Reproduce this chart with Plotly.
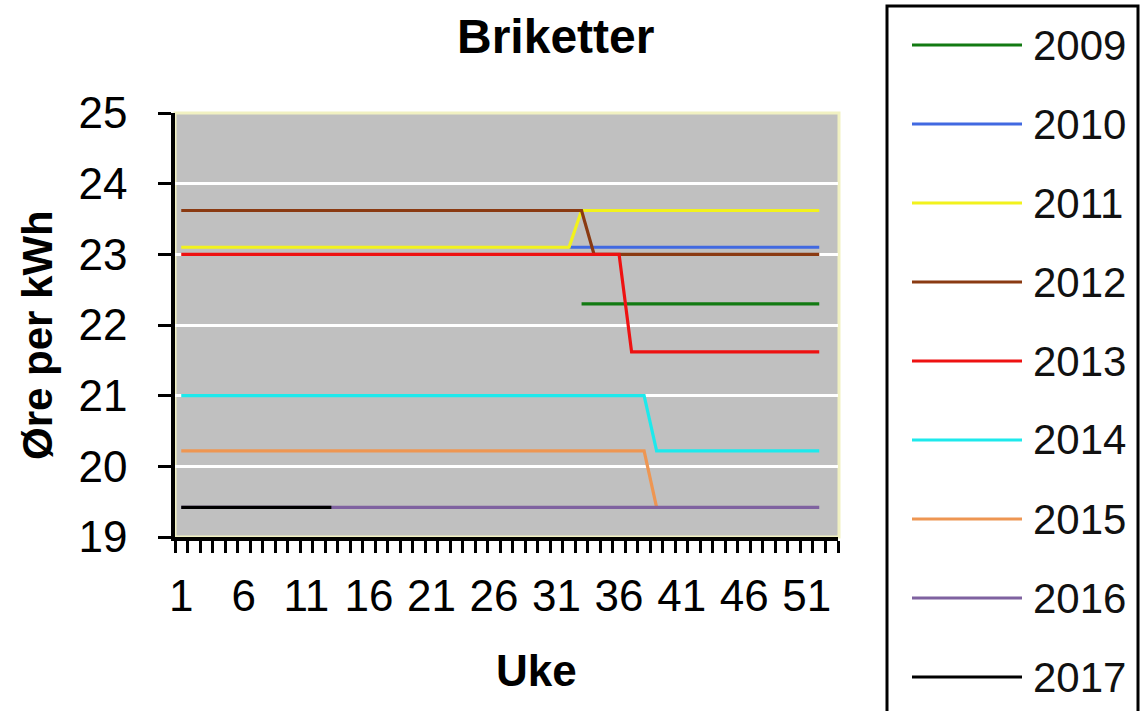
import plotly.graph_objects as go

# Weekly briquette prices (øre per kWh), weeks 1-52; None = no quote
weeks = list(range(1, 53))

p2009 = [None] * 32 + [22.3] * 20
p2010 = [None] * 31 + [23.1] * 21
p2011 = [23.1] * 32 + [23.62] * 20
p2012 = [23.62] * 33 + [23.0] * 19
p2013 = [23.0] * 36 + [21.62] * 16
p2014 = [21.0] * 38 + [20.22] * 14
p2015 = [20.22] * 38 + [19.42] + [None] * 13
p2016 = [19.42] * 52
p2017 = [19.42] * 13 + [None] * 39

years = ["2009", "2010", "2011", "2012", "2013", "2014", "2015", "2016", "2017"]
prices = [p2009, p2010, p2011, p2012, p2013, p2014, p2015, p2016, p2017]
colors = ["#127a12", "#4169e1", "#f2f21c", "#8a3a12", "#ee1111",
          "#1de9ec", "#ee9652", "#7f62a0", "#000000"]

x_ticks = [1, 6, 11, 16, 21, 26, 31, 36, 41, 46, 51]
y_ticks = [19, 20, 21, 22, 23, 24, 25]

W, H = 1142, 711
FONT = "Liberation Sans, Arial, sans-serif"


def px(x):
    return x / W


def py(y):
    return (H - y) / H


fig = go.Figure()
for year, vals, col in zip(years, prices, colors):
    fig.add_trace(go.Scatter(
        x=weeks, y=vals, mode="lines", name=year,
        line=dict(color=col, width=3.2), connectgaps=False,
        showlegend=False,
    ))

fig.update_layout(
    template="none",
    width=W, height=H,
    margin=dict(l=0, r=0, t=0, b=0, pad=0, autoexpand=False),
    paper_bgcolor="white",
    plot_bgcolor="#c0c0c0",
    font=dict(family=FONT, color="#000"),
    xaxis=dict(
        domain=[px(175), px(838)],
        range=[0.5, 53.5],
        automargin=False,
        tickmode="array", tickvals=x_ticks,
        ticks="outside", ticklen=12, tickcolor="rgba(0,0,0,0)",
        ticklabelstandoff=5,
        tickfont=dict(size=44, family=FONT, color="#000"),
        showgrid=False, zeroline=False,
        showline=True, linecolor="#000", linewidth=3.5,
        minor=dict(tick0=0.5, dtick=1, ticks="outside", ticklen=12,
                   tickwidth=3, tickcolor="#000", showgrid=False),
    ),
    yaxis=dict(
        domain=[py(537), py(113)],
        range=[19, 25],
        automargin=False,
        tickmode="array", tickvals=y_ticks,
        ticks="outside", ticklen=13, tickwidth=3, tickcolor="#000",
        ticklabelstandoff=22,
        tickfont=dict(size=44, family=FONT, color="#000"),
        showgrid=True, gridcolor="white", gridwidth=3,
        zeroline=False,
        showline=True, linecolor="#000", linewidth=3.5,
    ),
)

# pale frame on the top and right of the plot area
fig.add_shape(type="rect", xref="paper", yref="paper",
              x0=px(175), x1=px(839), y0=py(537), y1=py(113),
              line=dict(color="#f1f1c2", width=3), layer="below")

# titles
fig.add_annotation(text="<b>Briketter</b>", xref="paper", yref="paper",
                   x=px(555), y=py(37), showarrow=False,
                   xanchor="center", yanchor="middle",
                   font=dict(size=48, family=FONT, color="#000"))
fig.add_annotation(text="<b>Uke</b>", xref="paper", yref="paper",
                   x=px(536), y=py(670), showarrow=False,
                   xanchor="center", yanchor="middle",
                   font=dict(size=44, family=FONT, color="#000"))
fig.add_annotation(text="<b>Øre per kWh</b>", xref="paper", yref="paper",
                   x=px(38), y=py(335), showarrow=False, textangle=-90,
                   xanchor="center", yanchor="middle",
                   font=dict(size=42, family=FONT, color="#000"))

# legend box with one swatch per year
fig.add_shape(type="rect", xref="paper", yref="paper",
              x0=px(887), x1=px(1138), y0=-0.05, y1=py(6),
              line=dict(color="#000", width=3), fillcolor="white",
              layer="below")
for i, (year, col) in enumerate(zip(years, colors)):
    yy = 45 + 79 * i
    fig.add_shape(type="line", xref="paper", yref="paper",
                  x0=px(912), x1=px(1022), y0=py(yy), y1=py(yy),
                  line=dict(color=col, width=3))
    fig.add_annotation(text=year, xref="paper", yref="paper",
                       x=px(1031), y=py(yy), showarrow=False,
                       xanchor="left", yanchor="middle",
                       font=dict(size=42, family=FONT, color="#111"))

fig.write_html("out.html")
